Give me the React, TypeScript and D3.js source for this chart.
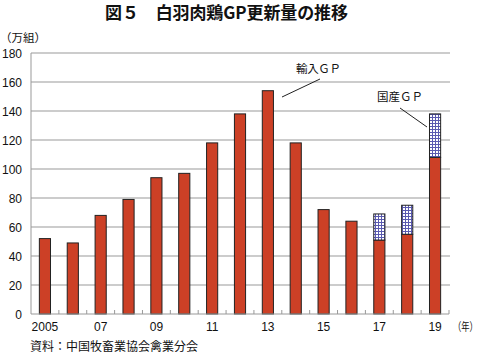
import React from "react";
import * as d3 from "d3";

const years = ["2005","2006","2007","2008","2009","2010","2011","2012","2013","2014","2015","2016","2017","2018","2019"];
const xLabels = ["2005","","07","","09","","11","","13","","15","","17","","19"];
const imported = [52, 49, 68, 79, 94, 97, 118, 138, 154, 118, 72, 64, 51, 55, 108];
const domestic = [0, 0, 0, 0, 0, 0, 0, 0, 0, 0, 0, 0, 18, 20, 30];
const yTicks = [0, 20, 40, 60, 80, 100, 120, 140, 160, 180];

export default function App() {
  const W = 479, H = 355;
  const left = 31, right = 449, top = 53, bottom = 314;
  const x = d3.scaleBand<string>().domain(years).range([left, right]).padding(0);
  const y = d3.scaleLinear().domain([0, 180]).range([bottom, top]);
  const bw = x.bandwidth() * 0.4;
  const font = "'Liberation Sans', Arial, sans-serif";
  const jfont = "'Noto Sans CJK JP', sans-serif";
  return (
    <svg width={W} height={H} style={{ position: "absolute", left: 0, top: 0, background: "#fff" }}>
      <defs>
        <pattern id="grid" width="3" height="3" patternUnits="userSpaceOnUse">
          <rect width="3" height="3" fill="#fff" />
          <path d="M0,0.5H3M0.5,0V3" stroke="#5a5ab0" strokeWidth="1" />
        </pattern>
      </defs>
      <text x={105} y={19} textLength={243} lengthAdjust="spacing" fontFamily={jfont} fontWeight="bold" fontSize={17} fill="#111">図５　白羽肉鶏GP更新量の推移</text>
      <text x={0} y={42} fontFamily={jfont} fontSize={11.5} fill="#111">（万組）</text>
      {yTicks.map(t => (
        <g key={t}>
          {t > 0 && <line x1={left} x2={right + 1} y1={y(t)} y2={y(t)} stroke="#999" strokeWidth={1} />}
          <text x={22} y={y(t) + 4.5} textAnchor="end" fontFamily={font} fontSize={12} fill="#111">{t}</text>
        </g>
      ))}
      {years.map((yr, i) => {
        const cx = (x(yr) as number) + x.bandwidth() / 2;
        return (
          <g key={yr}>
            <rect x={cx - bw / 2} y={y(imported[i])} width={bw} height={bottom - y(imported[i])} fill="#cc4026" stroke="#222" strokeWidth={1} />
            {domestic[i] > 0 && (
              <rect x={cx - bw / 2} y={y(imported[i] + domestic[i])} width={bw} height={y(imported[i]) - y(imported[i] + domestic[i])} fill="url(#grid)" stroke="#222" strokeWidth={1} />
            )}
            {xLabels[i] && (
              <text x={cx} y={331} textAnchor="middle" fontFamily={font} fontSize={12} fill="#111">{xLabels[i]}</text>
            )}
          </g>
        );
      })}
      {years.map((yr, i) => (
        <line key={"t" + yr} x1={(x(yr) as number) + x.bandwidth()} x2={(x(yr) as number) + x.bandwidth()} y1={bottom} y2={bottom - 4} stroke="#999" />
      ))}
      <line x1={left} x2={left} y1={top} y2={bottom} stroke="#999" />
      <line x1={left} x2={right} y1={bottom} y2={bottom} stroke="#999" />
      <text x={296} y={73} textLength={45} lengthAdjust="spacing" fontFamily={jfont} fontSize={11.5} fill="#111">輸入ＧＰ</text>
      <line x1={320} y1={79} x2={282} y2={97} stroke="#222" />
      <text x={377} y={101} textLength={46} lengthAdjust="spacing" fontFamily={jfont} fontSize={11.5} fill="#111">国産ＧＰ</text>
      <line x1={400} y1={108} x2={427} y2={127} stroke="#222" />
      <text transform="translate(453,331) scale(0.72,1)" x={0} y={0} fontFamily={jfont} fontSize={11.5} fill="#111">（年）</text>
      <text x={30} y={351} fontFamily={jfont} fontSize={12} fill="#111">資料：中国牧畜業協会禽業分会</text>
    </svg>
  );
}
